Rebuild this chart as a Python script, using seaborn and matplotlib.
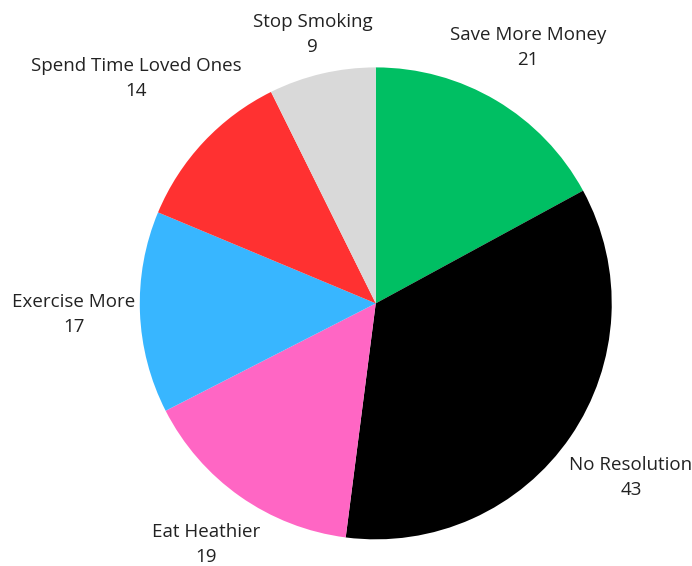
import numpy as np
import matplotlib
matplotlib.use("Agg")
import matplotlib.pyplot as plt
import seaborn as sns

# data
categories = ["Save More Money", "No Resolution", "Eat Heathier",
              "Exercise More", "Spend Time Loved Ones", "Stop Smoking"]
counts = [21, 43, 19, 17, 14, 9]
colors = ["#00BF63", "#000000", "#FF66C4", "#38B6FF", "#FF3131", "#D9D9D9"]

sns.set_style("white")
plt.rcParams["font.family"] = ["Open Sans", "DejaVu Sans"]

fig = plt.figure(figsize=(6.92, 5.66), dpi=100)
ax = fig.add_axes([0.202, 0.046, 0.682, 0.836])

wedges, _ = ax.pie(counts, colors=colors, startangle=90, counterclock=False,
                   radius=1.0, wedgeprops=dict(linewidth=0))

# label distance per wedge (layout only)
label_dist = [1.26, 1.31, 1.25, 1.28, 1.39, 1.17]
for w, name, val, d in zip(wedges, categories, counts, label_dist):
    ang = np.deg2rad((w.theta1 + w.theta2) / 2)
    ax.text(d * np.cos(ang), d * np.sin(ang), f"{name}\n{val}",
            ha="center", va="center", fontsize=13.5, color="#222222",
            linespacing=1.5)

ax.set_xlim(-1, 1)
ax.set_ylim(-1, 1)
ax.set_aspect("equal")
ax.axis("off")

fig.savefig("out.png", dpi=100)
